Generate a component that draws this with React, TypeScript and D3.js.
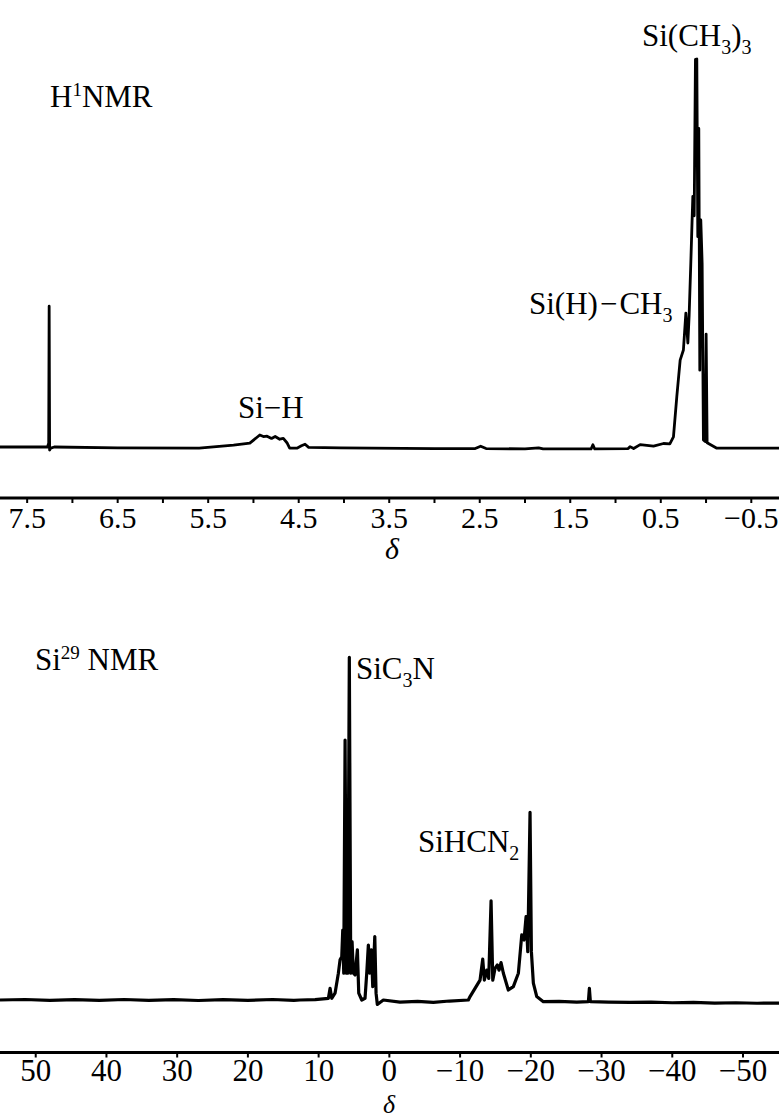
import React from "react";
import * as d3 from "d3";

// ---------- 1H NMR spectrum (chemical shift δ, relative intensity %) ----------
const h1Shift = [
  7.8, 7.4, 7.275, 7.262, 7.257, 7.252, 7.24, 7.2, 6.5, 5.6, 5.22, 5.04, 4.93, 4.89, 4.85, 4.8, 4.76, 4.71, 4.67, 4.63, 4.6,
  4.52, 4.47, 4.43, 4.39, 4.04, 3.0, 2.55, 2.49, 2.43, 2.0, 1.85, 1.8, 1.27, 1.25, 1.23, 0.86, 0.84, 0.8, 0.728, 0.58,
  0.47, 0.4, 0.36, 0.323, 0.286, 0.25, 0.223, 0.201, 0.187, 0.168, 0.146, 0.131, 0.117, 0.102, 0.091, 0.08, 0.069,
  0.058, 0.043, 0.029, 0.01, -0.001, -0.012, -0.119, -0.808,
];
const h1Intensity = [
  0, 0, 0, 1, 36.3, -0.8, -0.3, 0, -0.2, -0.3, 0.5, 1.0, 3.1, 2.7, 2.8, 2.2, 2.7, 2.0, 2.2, 1.1, -0.3,
  -0.3, 0.3, 0.7, -0.1, -0.2, -0.4, -0.4, 0.2, -0.4, -0.5, -0.2, -0.5, -0.5, 0.6, -0.5, -0.4, 0.1, -0.4, 0.6, 0.2,
  0.9, 0.8, 2.6, 13.0, 22.4, 25.0, 34.5, 26.8, 33.8, 47.6, 64.6, 59.6, 99.9, 100, 54.2, 82.1, 19.8,
  58.5, 47.3, 1.8, 1.4, 29.1, 1.1, -0.3, -0.3,
];
const h1Ticks = [7.5, 7.0, 6.5, 6.0, 5.5, 5.0, 4.5, 4.0, 3.5, 3.0, 2.5, 2.0, 1.5, 1.0, 0.5, 0.0, -0.5];
const h1TickLabels = [7.5, 6.5, 5.5, 4.5, 3.5, 2.5, 1.5, 0.5, -0.5];

// ---------- 29Si NMR spectrum ----------
const si29Shift = [
  55.05, 51.5, 48, 44.5, 41, 37.5, 34, 30.5, 27, 23.5, 20, 16.5, 13.5, 12.63, 10.5, 8.62, 8.38, 8.15, 7.68, 7.21, 6.97,
  6.73, 6.59, 6.45, 6.26, 6.08, 5.88, 5.66, 5.46, 5.27, 5.09, 4.85, 4.52, 4.33, 3.9, 3.44, 3.2, 2.97, 2.77, 2.54, 2.35,
  2.06, 1.88, 1.7, 0.85, -1.5, -4, -6.22, -8.5, -11.17, -11.41, -12.82, -13.2, -13.43, -13.77, -14.05, -14.38, -14.62,
  -14.94, -15.27, -15.51, -15.79, -16.12, -16.82, -17.53, -18.24, -18.72, -19.04, -19.33, -19.57, -19.89, -20.08,
  -20.36, -20.84, -21.77, -24, -26.5, -28.14, -28.28, -28.42, -31, -34, -37, -40, -43, -46, -49, -52, -55.09,
];
const si29Intensity = [
  0, 0.15, -0.1, 0.1, -0.1, 0.15, -0.1, 0.1, -0.15, 0.1, -0.1, 0.15, -0.1, 0, 0.1, 0.5, 3.4, 0.5, 2.0, 7.8, 11.7,
  12.6, 20.4, 7.8, 75.8, 7.8, 7.8, 99.9, 7.8, 17.0, 7.8, 7.3, 14.6, 2.0, 0, 0.5, 7.8, 16.0, 7.8, 14.6, 3.9,
  18.5, 2.0, -1.3, 0, -0.6, -0.4, -0.7, -0.3, 0, 1.0, 5.8, 11.9, 5.8, 8.7, 6.3, 28.9, 5.8,
  9.2, 10.2, 8.7, 10.9, 7.8, 2.9, 3.9, 7.8, 19.0, 17.5, 24.3, 14.1, 54.7, 14.1,
  4.9, 1.0, -0.5, -0.4, -0.6, -0.5, 3.4, -0.5, -0.6, -0.7, -0.6, -0.8, -0.7, -0.9, -0.8, -0.95, -0.9,
];
const si29Ticks = [50, 40, 30, 20, 10, 0, -10, -20, -30, -40, -50];

const W = 779;
const H = 1119;
const FONT = "'Liberation Serif', 'DejaVu Serif', serif";

const fmt = (v: number) => (v < 0 ? "\u2212" + String(Math.abs(v)) : String(v));

export default function App() {
  const xTop = d3.scaleLinear().domain([7.8, -0.806]).range([0, W]);
  const yTop = d3.scaleLinear().domain([0, 100]).range([447, 59]);
  const xBot = d3.scaleLinear().domain([55.05, -55.09]).range([0, W]);
  const yBot = d3.scaleLinear().domain([0, 100]).range([1000, 657]);

  const topLine = d3
    .line<number>()
    .x((_, i) => xTop(h1Shift[i]))
    .y((d) => yTop(d))(h1Intensity) as string;
  const botLine = d3
    .line<number>()
    .x((_, i) => xBot(si29Shift[i]))
    .y((d) => yBot(d))(si29Intensity) as string;

  const axisTopY = 498;
  const axisBotY = 1052.5;

  return (
    <svg
      width={W}
      height={H}
      viewBox={`0 0 ${W} ${H}`}
      style={{ position: "absolute", left: 0, top: 0, background: "#fff" }}
      fontFamily={FONT}
    >
      <rect x={0} y={0} width={W} height={H} fill="#fff" />

      {/* ---------- Top panel ---------- */}
      <path d={topLine} fill="none" stroke="#000" strokeWidth={2.8} strokeLinejoin="round" />
      <line x1={0} x2={W} y1={axisTopY} y2={axisTopY} stroke="#000" strokeWidth={3} />
      {h1Ticks.map((t) => (
        <line key={t} x1={xTop(t)} x2={xTop(t)} y1={axisTopY} y2={axisTopY + 5} stroke="#000" strokeWidth={2} />
      ))}
      {h1TickLabels.map((t) => (
        <text key={t} x={xTop(t)} y={528} fontSize={30} textAnchor="middle" fill="#000">
          {fmt(t)}
        </text>
      ))}
      <text x={392} y={559} fontSize={30} fontStyle="italic" textAnchor="middle" fill="#000">
        δ
      </text>

      <text x={50} y={107} fontSize={31} fill="#000">
        H<tspan fontSize={19} dy={-11}>1</tspan>
        <tspan dy={11}>NMR</tspan>
      </text>
      <text x={642} y={46} fontSize={31} fill="#000">
        Si(CH<tspan fontSize={20} dy={8}>3</tspan>
        <tspan dy={-8}>)</tspan>
        <tspan fontSize={20} dy={8}>3</tspan>
      </text>
      <text x={529} y={314} fontSize={31} fill="#000">
        Si(H)<tspan dx={2}>−</tspan>
        <tspan dx={2}>CH</tspan>
        <tspan fontSize={20} dy={8}>3</tspan>
      </text>
      <text x={238} y={418} fontSize={31} fill="#000">
        Si−H
      </text>

      {/* ---------- Bottom panel ---------- */}
      <path d={botLine} fill="none" stroke="#000" strokeWidth={3.2} strokeLinejoin="round" />
      <line x1={0} x2={W} y1={axisBotY} y2={axisBotY} stroke="#000" strokeWidth={3} />
      {si29Ticks.map((t) => (
        <line key={t} x1={xBot(t)} x2={xBot(t)} y1={axisBotY} y2={axisBotY + 5} stroke="#000" strokeWidth={2} />
      ))}
      {si29Ticks.map((t) => (
        <text key={t} x={xBot(t)} y={1081} fontSize={31} textAnchor="middle" fill="#000">
          {fmt(t)}
        </text>
      ))}
      <text x={389} y={1113} fontSize={26} fontStyle="italic" textAnchor="middle" fill="#000">
        δ
      </text>

      <text x={35} y={670} fontSize={31} fill="#000">
        Si<tspan fontSize={19} dy={-11}>29</tspan>
        <tspan dy={11}> NMR</tspan>
      </text>
      <text x={356} y={679} fontSize={31} fill="#000">
        SiC<tspan fontSize={20} dy={8}>3</tspan>
        <tspan dy={-8}>N</tspan>
      </text>
      <text x={418} y={852} fontSize={31} fill="#000">
        SiHCN<tspan fontSize={20} dy={8}>2</tspan>
      </text>
    </svg>
  );
}
